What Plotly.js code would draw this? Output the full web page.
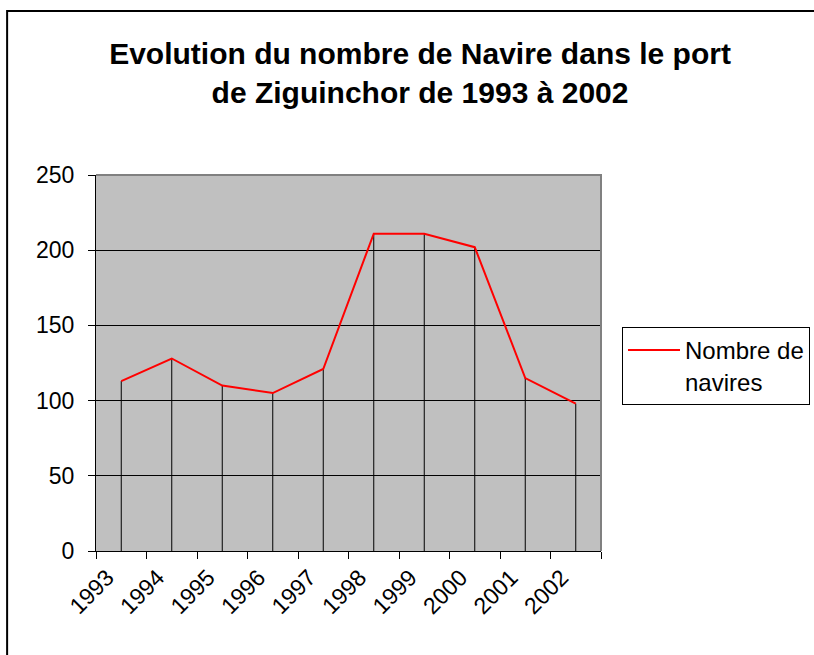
<!DOCTYPE html>
<html>
<head>
<meta charset="utf-8">
<script src="https://cdn.plot.ly/plotly-3.0.1.min.js"></script>
<style>html,body{margin:0;padding:0;background:#fff;}#chart{width:814px;height:655px;}</style>
</head>
<body>
<div id="chart"></div>
<script>
const years = ["1993","1994","1995","1996","1997","1998","1999","2000","2001","2002"];
const navires = [113, 128, 110, 105, 121, 211, 211, 202, 115, 98];
const zeros = [0, 0, 0, 0, 0, 0, 0, 0, 0, 0];
const seriesName = "Nombre de<br>navires";
const titleText = "Evolution du nombre de Navire dans le port<br>de Ziguinchor de 1993 à 2002";
const yTicks = [0, 50, 100, 150, 200, 250];

const font = "Liberation Sans, Arial, sans-serif";

const trace = {
  type: "scatter",
  mode: "lines",
  x: years,
  y: navires,
  name: seriesName,
  line: {color: "#FF0000", width: 2},
  error_y: {type: "data", symmetric: false, array: zeros, arrayminus: navires,
            width: 0, color: "#000000", thickness: 1},
  hoverinfo: "skip"
};

const layout = {
  width: 814, height: 655,
  margin: {l: 96, r: 213, t: 175, b: 104, pad: 0, autoexpand: false},
  paper_bgcolor: "#FFFFFF",
  plot_bgcolor: "#C0C0C0",
  font: {family: font, color: "#000000", size: 23},
  title: {
    text: titleText,
    font: {family: font, size: 30, weight: "bold", color: "#000000"},
    xref: "container", x: 0.516, xanchor: "center",
    yref: "container", y: 0.902, yanchor: "top"
  },
  showlegend: true,
  legend: {
    x: 1.0416, y: 0.596, xanchor: "left", yanchor: "top",
    bgcolor: "#FFFFFF", bordercolor: "#000000", borderwidth: 1,
    itemwidth: 52,
    valign: "top",
    entrywidth: 210,
    font: {family: font, size: 24, color: "#000000"}
  },
  xaxis: {
    type: "category",
    range: [-0.5, 9.5],
    tickson: "boundaries",
    ticks: "outside", ticklen: 7, tickcolor: "#000000", tickwidth: 1,
    tickangle: -45,
    ticklabelshift: -14,
    ticklabelstandoff: 3,
    showline: true, linecolor: "#000000", linewidth: 1,
    showgrid: false, zeroline: false,
    tickfont: {family: font, size: 23, color: "#000000"}
  },
  yaxis: {
    range: [0, 250],
    tickvals: yTicks,
    ticks: "outside", ticklen: 7, tickcolor: "#000000", tickwidth: 1,
    ticklabelstandoff: 9,
    showline: true, linecolor: "#000000", linewidth: 1,
    showgrid: true, gridcolor: "#000000", gridwidth: 1,
    zeroline: false,
    tickfont: {family: font, size: 23, color: "#000000"}
  },
  shapes: [
    {type: "path", xref: "paper", yref: "paper", layer: "above",
     path: "M 0,1 L 1,1 L 1,0", line: {color: "#808080", width: 2}},
    {type: "rect", xref: "paper", yref: "paper", layer: "below",
     x0: -0.176, x1: 1.6, y0: -0.4, y1: 1.436,
     line: {color: "#000000", width: 2}, fillcolor: "rgba(0,0,0,0)"}
  ]
};

Plotly.newPlot("chart", [trace], layout, {displayModeBar: false, staticPlot: true});
</script>
</body>
</html>
